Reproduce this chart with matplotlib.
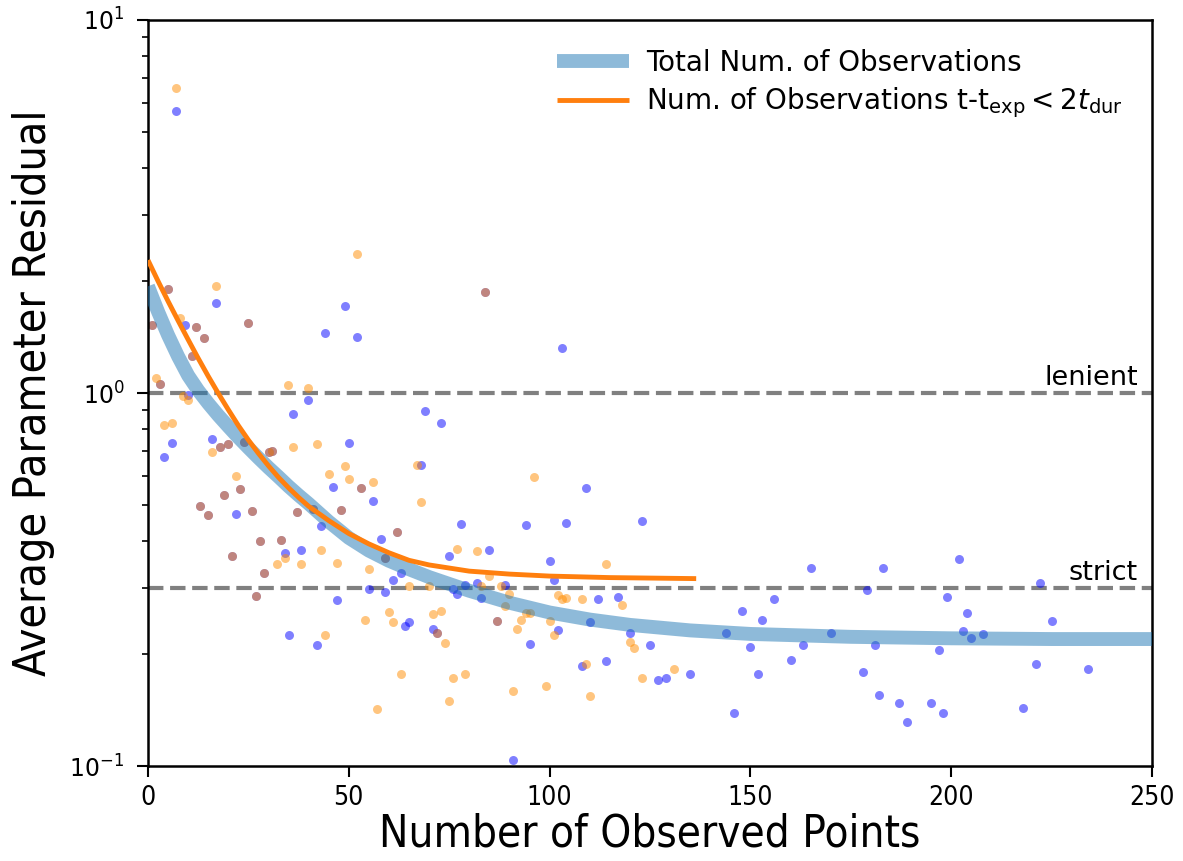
import numpy as np
import matplotlib
matplotlib.use("Agg")
import matplotlib.pyplot as plt
from matplotlib.ticker import NullFormatter

# points present in both runs (show up brown where they overlap)
shared_x = [5.1, 0.9, 12, 14, 25, 10.9, 3, 18, 20, 23.9, 30.1, 31, 23, 19, 13, 15, 26,
            21, 28, 33, 29, 27, 37, 41.2, 48, 53, 62, 59, 84, 72, 87]
shared_y = [1.90, 1.52, 1.50, 1.40, 1.54, 1.26, 1.06, 0.717, 0.731, 0.739, 0.696, 0.70,
            0.552, 0.534, 0.497, 0.472, 0.482, 0.365, 0.40, 0.404, 0.329, 0.285, 0.479,
            0.49, 0.487, 0.556, 0.425, 0.362, 1.86, 0.227, 0.245]

# total number of observations
blue_x = [7, 16.9, 9.2, 44.1, 49, 52, 10, 39.9, 36, 6, 4, 16, 50, 22, 34.1, 38, 43, 47,
          46, 56, 58, 63, 61, 55, 59, 64, 35, 42,
          103, 69, 73, 68, 109, 78, 94, 104, 123, 75, 85, 100, 101, 76, 77, 79, 82, 83,
          89, 65, 71, 95, 112, 117, 110, 102, 120, 125, 108, 114, 127, 91,
          165, 183, 179, 156, 148, 153, 144, 170, 150, 163, 181, 160, 178, 152, 129,
          135, 146, 182, 187, 189,
          202, 222, 199, 204, 225, 203, 205, 208, 197, 221, 234, 195, 198, 218]
blue_y = [5.70, 1.74, 1.52, 1.45, 1.71, 1.41, 0.99, 0.955, 0.877, 0.733, 0.672, 0.753,
          0.733, 0.473, 0.373, 0.380, 0.439, 0.279, 0.56, 0.515, 0.405, 0.33, 0.316,
          0.298, 0.292, 0.238, 0.225, 0.211,
          1.32, 0.895, 0.83, 0.642, 0.557, 0.446, 0.444, 0.448, 0.454, 0.366, 0.38,
          0.355, 0.316, 0.298, 0.29, 0.305, 0.309, 0.283, 0.305, 0.243, 0.233, 0.213,
          0.28, 0.284, 0.244, 0.232, 0.227, 0.211, 0.185, 0.191, 0.17, 0.104,
          0.34, 0.34, 0.297, 0.281, 0.261, 0.246, 0.228, 0.228, 0.208, 0.211, 0.211,
          0.193, 0.179, 0.176, 0.172, 0.177, 0.139, 0.155, 0.148, 0.131,
          0.36, 0.309, 0.284, 0.257, 0.245, 0.230, 0.221, 0.226, 0.205, 0.188, 0.182,
          0.148, 0.139, 0.143]

# observations with t - t_exp < 2 t_dur
orange_x = [7, 52, 16.9, 8, 1.9, 8.8, 10, 34.9, 39.9, 4, 6, 16, 36, 42, 22, 34.1, 32,
            38, 43, 47, 45, 49, 50, 56, 55, 60, 61, 54, 44, 63, 57,
            67, 68, 96, 77, 82, 114, 65, 70, 83, 85, 88, 90, 89, 71, 73, 74, 94, 95,
            93, 92, 100, 102, 103, 104, 108, 118, 101, 120, 121, 109, 123, 76, 79,
            75, 91, 99, 110, 131]
orange_y = [6.57, 2.36, 1.94, 1.59, 1.10, 0.98, 0.96, 1.05, 1.03, 0.82, 0.83, 0.695,
            0.716, 0.731, 0.60, 0.362, 0.349, 0.347, 0.379, 0.35, 0.607, 0.638, 0.587,
            0.577, 0.337, 0.259, 0.243, 0.247, 0.224, 0.177, 0.142,
            0.642, 0.509, 0.596, 0.382, 0.378, 0.348, 0.304, 0.304, 0.303, 0.324,
            0.303, 0.289, 0.268, 0.255, 0.261, 0.214, 0.257, 0.257, 0.246, 0.233,
            0.245, 0.287, 0.28, 0.283, 0.28, 0.271, 0.224, 0.215, 0.207, 0.188,
            0.172, 0.172, 0.176, 0.149, 0.159, 0.164, 0.154, 0.182]

# fitted trends
fit_tot_x = [0, 2.5, 5, 7.5, 10, 12.5, 15, 17.5, 20, 22.5, 25, 27.5, 30, 32.5, 35,
             37.5, 40, 45, 50, 55, 60, 65, 70, 80, 90, 100, 110, 120, 135, 150, 175,
             200, 225, 250]
fit_tot_y = [1.932, 1.652, 1.429, 1.253, 1.114, 1.016, 0.938, 0.871, 0.813, 0.760,
             0.713, 0.670, 0.631, 0.596, 0.562, 0.532, 0.505, 0.452, 0.409, 0.378,
             0.355, 0.337, 0.321, 0.295, 0.274, 0.258, 0.247, 0.239, 0.231, 0.226,
             0.222, 0.220, 0.219, 0.219]
fit_cut_x = [0, 2.5, 5, 7.5, 10, 12.5, 15, 17.5, 20, 22.5, 25, 27.5, 30, 32.5, 35,
             37.5, 40, 45, 50, 55, 60, 65, 70, 80, 90, 100, 115, 136.5]
fit_cut_y = [2.270, 1.995, 1.762, 1.563, 1.390, 1.239, 1.109, 0.998, 0.902, 0.818,
             0.748, 0.689, 0.638, 0.594, 0.557, 0.525, 0.497, 0.455, 0.420, 0.394,
             0.373, 0.356, 0.346, 0.333, 0.327, 0.323, 0.320, 0.318]

cond = dict(family="DejaVu Sans", stretch="condensed")

fig, ax = plt.subplots(figsize=(11.83, 8.61), dpi=100)
fig.subplots_adjust(left=0.1251, right=0.9738, top=0.9768, bottom=0.1103)

ax.axhline(1.0, color="gray", ls="--", lw=3, zorder=1)
ax.axhline(0.3, color="gray", ls="--", lw=3, zorder=1)
ax.text(246.5, 1.015, "lenient", fontsize=19.5, ha="right", va="bottom")
ax.text(246.5, 0.3045, "strict", fontsize=19.5, ha="right", va="bottom")

ax.scatter(blue_x + shared_x, blue_y + shared_y, s=42, color="blue", alpha=0.5,
           linewidths=0, zorder=2)
ax.scatter(orange_x + shared_x, orange_y + shared_y, s=42, color="darkorange",
           alpha=0.5, linewidths=0, zorder=2)

ax.plot(fit_tot_x, fit_tot_y, color="C0", alpha=0.5, lw=10, solid_capstyle="butt",
        solid_joinstyle="round", label="Total Num. of Observations", zorder=3)
ax.plot(fit_cut_x, fit_cut_y, color="C1", lw=3.5, solid_capstyle="butt",
        solid_joinstyle="round",
        label=r"Num. of Observations t-t$_{\rm exp} < 2t_{\rm dur}$", zorder=4)

ax.set_yscale("log")
ax.set_xlim(0, 250)
ax.set_ylim(0.1, 10)
ax.yaxis.set_minor_formatter(NullFormatter())

ax.set_xlabel("Number of Observed Points", fontsize=31.5, labelpad=1, **cond)
ax.set_ylabel("Average Parameter Residual", fontsize=32, labelpad=10, **cond)
ax.tick_params(axis="x", labelsize=19, pad=6)
for lab in ax.get_xticklabels():
    lab.set_fontstretch("condensed")
ax.tick_params(axis="y", which="major", labelsize=17, pad=9)
ax.tick_params(which="major", length=8, width=1.5)
ax.tick_params(which="minor", length=4.5, width=1.2)
for sp in ax.spines.values():
    sp.set_linewidth(1.8)

ax.legend(loc="upper right", frameon=False, fontsize=20, handlelength=2.6,
          handletextpad=0.6, borderaxespad=0.65, labelspacing=0.3)

fig.savefig("out.png", dpi=100)
